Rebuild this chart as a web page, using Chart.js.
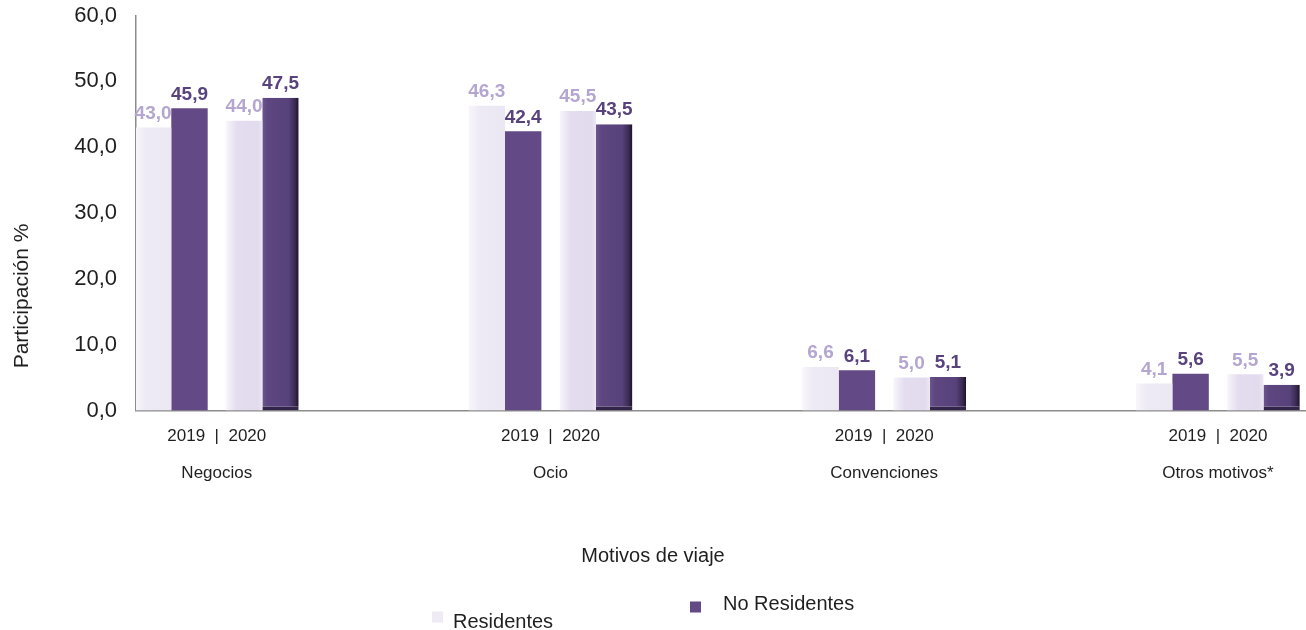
<!DOCTYPE html>
<html lang="es">
<head>
<meta charset="utf-8">
<title>Motivos de viaje</title>
<script src="https://cdn.jsdelivr.net/npm/chart.js@4.4.1/dist/chart.umd.min.js"></script>
<style>
  html, body { margin: 0; padding: 0; background: #fff; overflow: hidden; }
  #wrap { width: 1306px; height: 630px; position: relative; }
</style>
</head>
<body>
<div id="wrap"><canvas id="chart"></canvas></div>
<script>
// ─── datos ─────────────────────────────
const categories = ['Negocios', 'Ocio', 'Convenciones', 'Otros motivos*'];
const years      = ['2019', '2020'];
const res2019    = [43.0, 46.3, 6.6, 4.1];
const noRes2019  = [45.9, 42.4, 6.1, 5.6];
const res2020    = [44.0, 45.5, 5.0, 5.5];
const noRes2020  = [47.5, 43.5, 5.1, 3.9];
const yTicks     = [0, 10, 20, 30, 40, 50, 60];

const FONT = "'Liberation Sans', Arial, sans-serif";
const TEXT = '#1f1f1f';
const fmt = v => v.toFixed(1).replace('.', ',');
const points = vals => vals.map((v, i) => ({ x: i, y: v }));

// hueco vacío entre pares de barras (no dibuja nada)
const gap = () => ({ label: '', data: [], gap: true });

const datasets = [
  { label: 'Residentes', year: years[0], data: points(res2019),
    backgroundColor: '#eeebf5', labelColor: '#b4a6d0',
    shade: [[0, '#f8f6fb'], [0.3, '#eeeaf5'], [1, '#ebe7f3']] },
  gap(),
  { label: 'No Residentes', year: years[0], data: points(noRes2019),
    backgroundColor: '#634a86', labelColor: '#58437e' },
  gap(), gap(),
  { label: 'Residentes', year: years[1], data: points(res2020),
    backgroundColor: '#e4ddef', labelColor: '#b4a6d0',
    shade: [[0, '#f8f6fb'], [0.3, '#e4ddef'], [0.88, '#e2dbee'], [1, '#ece7f3']] },
  gap(),
  { label: 'No Residentes', year: years[1], data: points(noRes2020),
    backgroundColor: '#5b447e', labelColor: '#58437e',
    borderColor: '#33244a', borderWidth: { bottom: 4 }, borderSkipped: false,
    shade: [[0, '#6c5690'], [0.15, '#5e4781'], [0.72, '#58427b'], [0.9, '#3a2a52'], [1, '#1c1226']] }
];

// posición de la leyenda como en el original (Excel la dejó escalonada)
const legendSpots = [
  { x: 432, y: 617, textX: 453, textY: 622 },
  { x: 690, y: 607, textX: 723, textY: 604 }
];

// degradados + etiquetas de valor + título eje Y + leyenda
const barStyle = {
  id: 'barStyle',
  beforeDatasetsDraw(chart) {
    const ctx = chart.ctx;
    chart.data.datasets.forEach((ds, di) => {
      if (!ds.shade) return;
      chart.getDatasetMeta(di).data.forEach(el => {
        const g = ctx.createLinearGradient(el.x - el.width / 2, 0, el.x + el.width / 2, 0);
        ds.shade.forEach(([o, c]) => g.addColorStop(o, c));
        el.options = Object.assign({}, el.options, { backgroundColor: g });
      });
    });
  },
  afterDatasetsDraw(chart) {
    const ctx = chart.ctx;
    ctx.save();
    ctx.font = `bold 19px ${FONT}`;
    ctx.textAlign = 'center';
    ctx.textBaseline = 'middle';
    chart.data.datasets.forEach((ds, di) => {
      if (ds.gap) return;
      ctx.fillStyle = ds.labelColor;
      chart.getDatasetMeta(di).data.forEach((el, i) => {
        ctx.fillText(fmt(ds.data[i].y), el.x, el.y - 14);
      });
    });
    ctx.restore();
  },
  afterDraw(chart) {
    const ctx = chart.ctx;
    const a = chart.chartArea;
    ctx.save();
    ctx.textBaseline = 'middle';
    ctx.fillStyle = TEXT;

    // leyenda: solo las series de 2019 (los colores planos)
    ctx.font = `20px ${FONT}`;
    ctx.textAlign = 'left';
    chart.data.datasets.filter(ds => ds.year === years[0]).forEach((ds, k) => {
      const p = legendSpots[k];
      ctx.fillStyle = ds.backgroundColor;
      ctx.fillRect(p.x, p.y - 5.5, 11, 11);
      ctx.fillStyle = TEXT;
      ctx.fillText(ds.label, p.textX, p.textY);
    });

    // título eje Y
    ctx.font = `21px ${FONT}`;
    ctx.textAlign = 'center';
    ctx.translate(22, a.top + (a.bottom - a.top) * 0.71);
    ctx.rotate(-Math.PI / 2);
    ctx.fillText('Participación %', 0, 0);
    ctx.restore();
  }
};

new Chart(document.getElementById('chart'), {
  type: 'bar',
  data: { datasets },
  plugins: [barStyle],
  options: {
    responsive: true,
    maintainAspectRatio: false,
    animation: false,
    layout: { padding: { top: 15.5, left: 0, right: 0, bottom: 0 } },
    datasets: { bar: { categoryPercentage: 0.4363, barPercentage: 2, borderWidth: 0 } },
    scales: {
      x: {
        type: 'linear', offset: false, min: -0.2421, max: 3.264,
        afterBuildTicks: s => { s.ticks = categories.map((_, i) => ({ value: i })); },
        afterFit: s => { s.height = 82; },
        grid: { display: false, drawTicks: false },
        border: { display: true, color: '#8c8c8c', width: 1.5 },
        ticks: {
          padding: 7, autoSkip: false, maxRotation: 0, color: TEXT,
          font: { family: FONT, size: 17, lineHeight: 2.2 },
          callback: v => [years.join('  |  '), categories[v]]
        }
      },
      y: {
        min: yTicks[0], max: yTicks[yTicks.length - 1],
        afterBuildTicks: s => { s.ticks = yTicks.map(v => ({ value: v })); },
        afterFit: s => { s.width = 136; s.paddingTop = 0; s.paddingBottom = 0; },
        grid: { display: false, drawTicks: false },
        border: { display: true, color: '#8c8c8c', width: 1.5 },
        ticks: { padding: 19, color: TEXT, font: { family: FONT, size: 22 }, callback: v => fmt(v) }
      }
    },
    plugins: {
      tooltip: { enabled: false },
      legend: { display: false },
      title: {
        display: true, position: 'bottom', text: 'Motivos de viaje', color: TEXT,
        font: { family: FONT, size: 20, weight: 'normal' },
        padding: { top: 51.5, bottom: 62 }
      }
    }
  }
});
</script>
</body>
</html>
